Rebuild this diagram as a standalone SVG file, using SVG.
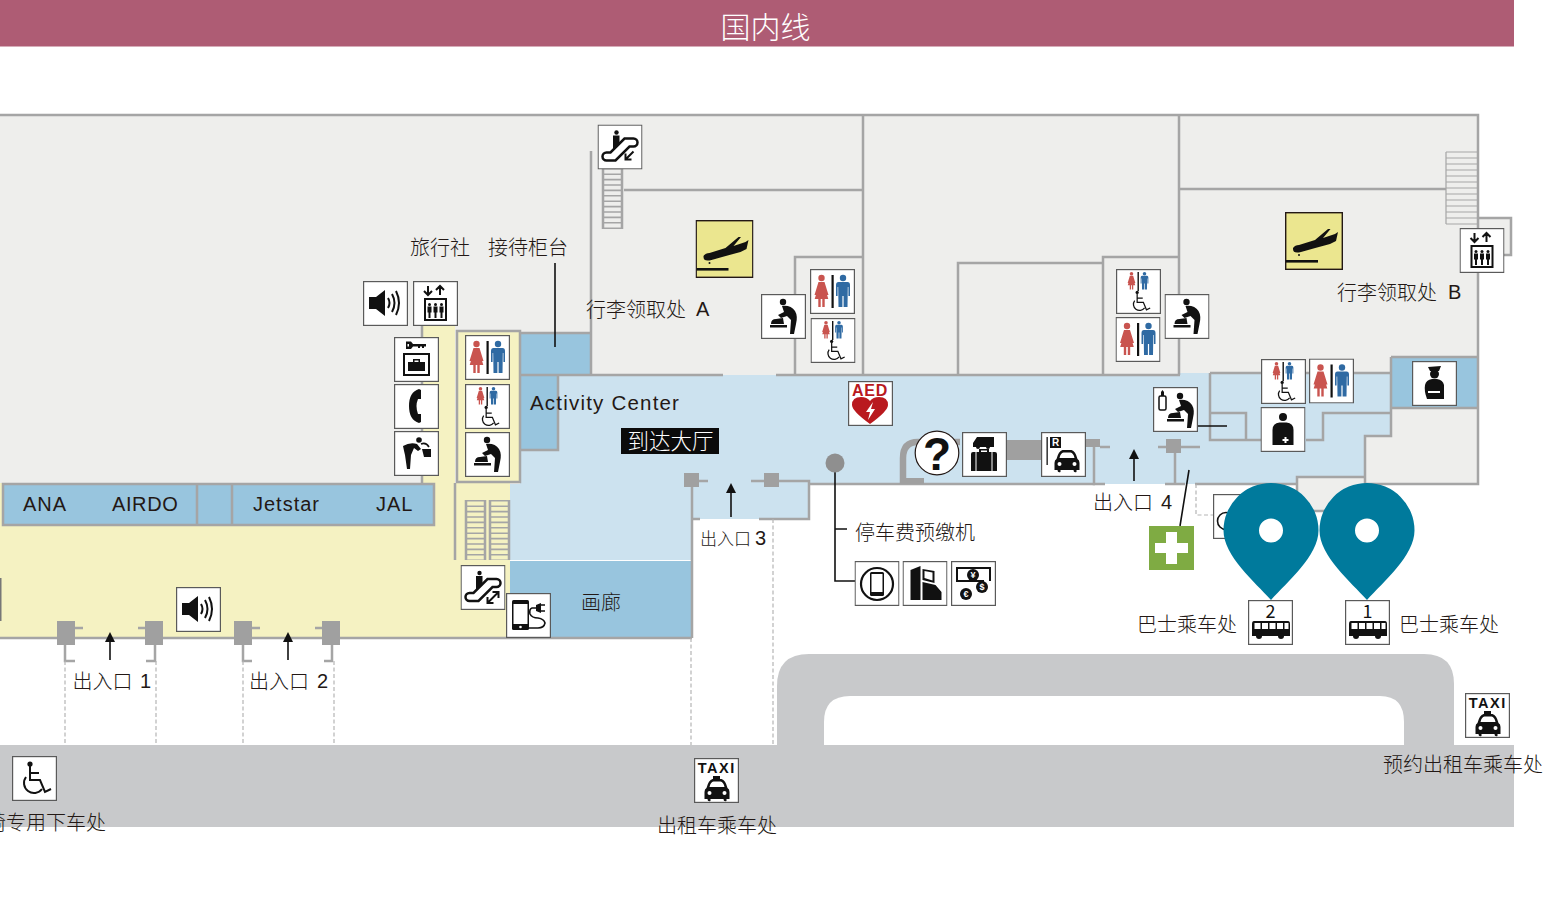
<svg xmlns="http://www.w3.org/2000/svg" width="1550" height="900" viewBox="0 0 1550 900">
<style>
text{font-family:"Noto Sans CJK SC","Noto Sans",sans-serif;font-size:20px;fill:#231815;font-weight:300}
.lat{font-family:"Liberation Sans","Noto Sans",sans-serif;letter-spacing:1px}
.w{fill:none;stroke:#a5a5a5;stroke-width:2.5}
.t{fill:none;stroke:#a5a5a5;stroke-width:1.2}
.d{fill:none;stroke:#b5b5b5;stroke-width:1.2;stroke-dasharray:4 2.5}
.g{fill:#a0a0a0}
.k{fill:none;stroke:#111;stroke-width:1.6}
.box{fill:#fff;stroke:#5a5a5a;stroke-width:1.2}
.i{fill:#111}
.is{fill:none;stroke:#111;stroke-width:2}
.b{fill:#98c5de}
.rung{fill:none;stroke:#a5a5a5;stroke-dasharray:1.6 3.8}
</style>
<defs>
<marker id="ah" markerWidth="12" markerHeight="12" refX="8" refY="5" orient="auto" markerUnits="userSpaceOnUse"><path d="M0 0L10 5L0 10Z" fill="#111"/></marker>
<g id="man"><circle cy="3" r="3.200"/><path d="M-7 10Q-7 7-4.500 7H4.500Q7 7 7 10V21H5.400V12H4.800L4.500 32H.6V21H-.6V32H-4.500L-4.800 12H-5.400V21H-7Z"/></g>
<g id="woman"><circle cy="3" r="3.200"/><path d="M-3 7H3L7 20H5.500L3.500 13L6.800 24H3.200V32H.8V24H-.8V32H-3.200V24H-6.800L-3.500 13L-5.500 20H-7Z"/></g>
<g id="chair"><circle cx="18" cy="8" r="2.600" class="i"/><path d="M18 10V24H28L33 36L39 33M18 17H27" class="is"/><path d="M14 21A10 10 0 1 0 30 33" class="is"/></g>
<g id="babyfig"><circle cx="22" cy="8" r="3.200"/><path d="M21 12Q30 11 34 17Q37 22 35 30L33 40H29L30 26L26 22L20 24L17 21L23 18Z"/><path d="M9 31H26V33.500H9ZM10 30Q10 25 15 25L22 24L23 30Z"/></g>
<path id="plane" d="M8 36Q10 33 14 33L30 28L43 17H45.500L38 26L50 22L53 20L51 29L45 32Q30 36 16 40Q8 42 8 37Z"/>
<g id="carshape"><path d="M3 10Q5 2 9 1H18Q22 2 24 10Q26 11 26 14V21H23V23Q20 24 20 21H7V23Q4 24 4 21H1V14Q1 11 3 10ZM6 9H21Q20 4 17 3.500H10Q7 4 6 9Z" fill-rule="evenodd"/><circle cx="6" cy="15" r="2" fill="#fff"/><circle cx="21" cy="15" r="2" fill="#fff"/></g>
<symbol id="speaker" viewBox="0 0 45 45" width="45" height="45"><rect class="box" x=".6" y=".6" width="43.800" height="43.800"/><path class="i" d="M6 16H13L22 9V35L13 28H6Z"/><path class="is" d="M25 17Q28 22 25 27M29 13Q34 22 29 31M33 10Q39 22 33 34"/></symbol>
<symbol id="lift" viewBox="0 0 45 45" width="45" height="45"><rect class="box" x=".6" y=".6" width="43.800" height="43.800"/><path class="is" d="M15 5V14M11 10L15 14L19 10M27 14V5M23 9L27 5L31 9"/><rect class="is" x="12" y="18" width="21" height="21"/><g class="i"><circle cx="16.500" cy="23.500" r="1.500"/><path d="M14.500 25.500H18.500V31.500H17.500V37H15.500V31.500H14.500Z"/><circle cx="22.500" cy="23.500" r="1.500"/><path d="M20.500 25.500H24.500V31.500H23.500V37H21.500V31.500H20.500Z"/><circle cx="28.500" cy="23.500" r="1.500"/><path d="M26.500 25.500H30.500V31.500H29.500V37H27.500V31.500H26.500Z"/></g></symbol>
<symbol id="keybag" viewBox="0 0 45 45" width="45" height="45"><rect class="box" x=".6" y=".6" width="43.800" height="43.800"/><path class="i" d="M12 4.500H17L19 7H32V9.500H30V11H28V9.500H26V11H24V9.500H19L17 12H12Z"/><rect x="13.500" y="7" width="1.500" height="2.500" fill="#fff"/><rect class="is" x="10" y="17" width="25" height="21"/><path class="i" d="M14 25H19V22H26V25H31V34H14ZM20.500 23.500V25H24.500V23.500Z" fill-rule="evenodd"/></symbol>
<symbol id="phone" viewBox="0 0 45 45" width="45" height="45"><rect class="box" x=".6" y=".6" width="43.800" height="43.800"/><path class="i" d="M25 5Q15 8 15 22Q15 36 25 39L27 38V30H24Q21 22 24 15H27V6Z"/></symbol>
<symbol id="water" viewBox="0 0 45 45" width="45" height="45"><rect class="box" x=".6" y=".6" width="43.800" height="43.800"/><g class="i"><circle cx="25" cy="9" r="2.800"/><path d="M9 15Q16 11 23 13L27 18L24 20L20 17L17 24L16 38H13L11 24Q10 20 9 15Z"/><path d="M28 18H37V26H30Z"/></g><path class="k" d="M27 13Q32 11 35 16" stroke-width="1"/></symbol>
<symbol id="wc" viewBox="0 0 45 45" width="45" height="45"><rect class="box" x=".6" y=".6" width="43.800" height="43.800"/><use href="#woman" x="11.500" y="6" fill="#c9544f"/><rect x="21.500" y="6" width="2.200" height="33" fill="#111"/><use href="#man" x="33" y="6" fill="#2f6aa3"/></symbol>
<symbol id="wca" viewBox="0 0 45 45" width="45" height="45"><rect class="box" x=".6" y=".6" width="43.800" height="43.800"/><use href="#woman" transform="translate(15.500 3) scale(.55)" fill="#c9544f"/><rect x="21.500" y="3" width="1.400" height="19" fill="#111"/><use href="#man" transform="translate(28.500 3) scale(.55)" fill="#2f6aa3"/><use href="#chair" transform="translate(10 18.500) scale(.62)"/></symbol>
<symbol id="baby" viewBox="0 0 45 45" width="45" height="45"><rect class="box" x=".6" y=".6" width="43.800" height="43.800"/><use href="#babyfig" fill="#111"/></symbol>
<symbol id="babybottle" viewBox="0 0 45 45" width="45" height="45"><rect class="box" x=".6" y=".6" width="43.800" height="43.800"/><use href="#babyfig" fill="#111" transform="translate(5 1)"/><rect x="6" y="9" width="7" height="14" rx="1.500" fill="#fff" stroke="#111" stroke-width="1.500"/><path class="i" d="M8 9V5L9.500 3L11 5V9Z"/></symbol>
<symbol id="esc" viewBox="0 0 45 45" width="45" height="45"><rect class="box" x=".6" y=".6" width="43.800" height="43.800"/><path d="M9 28H13L27 14H36A4 4 0 0 1 36 22H32L18 36H9A4 4 0 0 1 9 28Z" fill="none" stroke="#111" stroke-width="2.500"/><circle cx="19" cy="8" r="2.200" class="i"/><path class="i" d="M15.500 11H22V20L17 24H15.500Z"/><path class="is" d="M27 38L38 27M32 27H38V33M27 32V38H33"/></symbol>
<symbol id="escdown" viewBox="0 0 45 45" width="45" height="45"><rect class="box" x=".6" y=".6" width="43.800" height="43.800"/><path d="M9 28H13L27 14H36A4 4 0 0 1 36 22H32L18 36H9A4 4 0 0 1 9 28Z" fill="none" stroke="#111" stroke-width="2.500"/><circle cx="19" cy="8" r="2.200" class="i"/><path class="i" d="M15.500 11H22V20L17 24H15.500Z"/><path class="is" d="M36 27L28 35M28 29V35H34"/></symbol>
<symbol id="charge" viewBox="0 0 45 45" width="45" height="45"><rect class="box" x=".6" y=".6" width="43.800" height="43.800"/><rect class="i" x="6" y="7" width="17" height="30" rx="1.500"/><rect x="7.500" y="11" width="14" height="20" fill="#fff"/><circle cx="14.500" cy="34" r="1.300" fill="#fff"/><path class="i" d="M30 12L35 10V20L30 18Z"/><path d="M35 12H39M35 18H39" class="k"/><path class="k" d="M30 15H26Q23 16 24 21Q26 25 32 25Q38 26 39 30Q38 35 32 35H23"/></symbol>
<symbol id="wheel" viewBox="0 0 45 45" width="45" height="45"><rect class="box" x=".6" y=".6" width="43.800" height="43.800"/><use href="#chair"/></symbol>
<symbol id="taxi" viewBox="0 0 45 45" width="45" height="45"><rect class="box" x=".6" y=".6" width="43.800" height="43.800"/><text x="22.800" y="15" text-anchor="middle" style="font-family:'Liberation Sans',sans-serif;font-weight:700;font-size:14.500px;letter-spacing:1.500px;fill:#111">TAXI</text><rect class="i" x="19" y="18" width="7" height="3"/><use href="#carshape" class="i" transform="translate(9.500 20)"/></symbol>
<symbol id="aed" viewBox="0 0 45 45" width="45" height="45"><rect class="box" x=".6" y=".6" width="43.800" height="43.800"/><text x="22" y="14.500" text-anchor="middle" style="font-family:'Liberation Sans',sans-serif;font-weight:700;font-size:16px;letter-spacing:.8px;fill:#b9191e">AED</text><path d="M22 43Q4 30 4 24Q4 16 13 16Q19 16 22 20Q25 16 31 16Q40 16 40 24Q40 30 22 43Z" fill="#b9191e"/><path d="M25 21L18 31H22L20 39L27 28H23Z" fill="#fff"/></symbol>
<symbol id="lug" viewBox="0 0 45 45" width="45" height="45"><rect class="box" x=".6" y=".6" width="43.800" height="43.800"/><path class="i" d="M11 15V11L15 5H32V15H28A2 2 0 0 1 24 15H18A2 2 0 0 1 14 15Z"/><path class="i" d="M9 22Q9 20 11 20H17V17H27V20H33Q35 20 35 22V39H9ZM19 18.500V20H25V18.500Z" fill-rule="evenodd"/><path d="M14 20V39M30 20V39" stroke="#fff"/></symbol>
<symbol id="rent" viewBox="0 0 45 45" width="45" height="45"><rect class="box" x=".6" y=".6" width="43.800" height="43.800"/><rect class="i" x="5.500" y="5" width="1.300" height="28"/><rect class="i" x="9" y="5" width="11" height="11"/><text x="14.500" y="14" text-anchor="middle" style="font-family:'Liberation Sans',sans-serif;font-weight:700;font-size:10px;fill:#fff">R</text><use href="#carshape" class="i" transform="translate(12.500 17)"/></symbol>
<symbol id="phonecoin" viewBox="0 0 45 45" width="45" height="45"><rect class="box" x=".6" y=".6" width="43.800" height="43.800"/><circle cx="22.500" cy="23" r="16" fill="none" stroke="#111" stroke-width="2.200"/><rect class="i" x="15.500" y="11" width="14" height="24" rx="1.500"/><rect x="17" y="13" width="11" height="18" fill="#fff"/></symbol>
<symbol id="machine" viewBox="0 0 45 45" width="45" height="45"><rect class="box" x=".6" y=".6" width="43.800" height="43.800" stroke="#222"/><path class="i" d="M8 9L18 5V39H8ZM20 8L32 10V22L20 19ZM20 21L33 24L39 31V39H20Z"/><path d="M22 10L30 11.500V19.500L22 17Z" fill="#fff"/></symbol>
<symbol id="money" viewBox="0 0 45 45" width="45" height="45"><rect class="box" x=".6" y=".6" width="43.800" height="43.800"/><path class="is" d="M33 20H6V7H39V20"/><circle class="i" cx="22" cy="14" r="6"/><circle class="i" cx="31" cy="26" r="6"/><circle class="i" cx="15" cy="33" r="6"/><g text-anchor="middle"><text x="22" y="17" style="font-family:'Liberation Sans',sans-serif;fill:#fff;font-size:9px;font-weight:700">¥</text><text x="31" y="29" style="font-family:'Liberation Sans',sans-serif;fill:#fff;font-size:9px;font-weight:700">$</text><text x="15" y="36" style="font-family:'Liberation Sans',sans-serif;fill:#fff;font-size:9px;font-weight:700">€</text></g></symbol>
<symbol id="aid" viewBox="0 0 45 45" width="45" height="45"><rect class="box" x=".6" y=".6" width="43.800" height="43.800"/><circle class="i" cx="22.500" cy="10" r="4"/><path class="i" d="M12 38V23Q12 16 19 15.500H26Q33 16 33 23V38Z"/><path fill="#fff" d="M24 30H26V32H28V34H26V36H24V34H22V32H24Z"/></symbol>
<symbol id="police" viewBox="0 0 45 45" width="45" height="45"><rect class="box" x=".6" y=".6" width="43.800" height="43.800"/><path class="i" d="M16 6L29 5L27 10H18Z"/><circle class="i" cx="22.500" cy="13" r="4.500"/><path class="i" d="M13 24Q14 19 20 18H25Q31 19 32 24V38H15Q12 30 13 24Z"/><path d="M16 30H28V32H16Z" fill="#fff"/></symbol>
<symbol id="clock" viewBox="0 0 45 45" width="45" height="45"><rect class="box" x=".6" y=".6" width="43.800" height="43.800"/><circle cx="13" cy="27" r="8.500" fill="none" stroke="#111" stroke-width="1.600"/></symbol>
<symbol id="bus" viewBox="0 0 45 45" width="45" height="45"><rect class="box" x=".6" y=".6" width="43.800" height="43.800"/><path class="i" d="M6 21H40Q42 21 42 24V36H4V24Q4 21 6 21Z"/><circle class="i" cx="11" cy="36" r="3"/><circle class="i" cx="33" cy="36" r="3"/><g fill="#fff"><rect x="6.500" y="23" width="6" height="6"/><rect x="14" y="23" width="6" height="6"/><rect x="21.500" y="23" width="6" height="6"/><rect x="29" y="23" width="6" height="6"/><rect x="36.500" y="23" width="4" height="6"/></g></symbol>
<symbol id="arrive" viewBox="0 0 58 58" width="58" height="58"><rect x=".7" y=".7" width="56.600" height="56.600" fill="#ebe68f" stroke="#231815" stroke-width="1.400"/><use href="#plane" class="i"/><rect class="i" x="1" y="48" width="32" height="2.600"/><circle class="i" cx="14" cy="43" r="1"/></symbol>
</defs>

<g id="header"><rect width="1514" height="46.500" fill="#ae5c74"/><text x="765.500" y="38" text-anchor="middle" style="font-size:30px;fill:#fff">国内线</text></g>

<g id="road" fill="#c8c9cb"><rect x="0" y="745" width="1514" height="82"/><path d="M777 745V686Q777 654 809 654H1424Q1454 654 1454 684V745Z"/><path d="M824 745V722Q824 696 850 696H1380Q1404 696 1404 722V745Z" fill="#fff"/></g>

<g id="floor">
<rect x="0" y="115" width="1478" height="369" fill="#eeeeec"/>
<rect x="1478" y="218" width="33" height="37" fill="#eeeeec"/>
<rect x="1297" y="477" width="68" height="34" fill="#eeeeec"/>
<rect x="0" y="483" width="510" height="155" fill="#f5f2c2"/>
<rect x="423" y="325" width="32" height="158" fill="#f5f2c2"/>
<rect x="456" y="330" width="64" height="153" fill="#f5f2c2"/>
<path fill="#cce2ef" d="M520 375H1180V373H1391V436H1365V477H1297V484H809V519H692V560H510V484H520Z"/>
<rect class="b" x="510" y="561" width="181" height="77"/>
<rect class="b" x="521" y="333" width="70" height="42"/>
<rect class="b" x="521" y="376" width="37" height="74"/>
<rect class="b" x="1391" y="357" width="87" height="51"/>
<rect class="b" x="3" y="483" width="431" height="42"/>
</g>

<g id="walls">
<path class="w" d="M0 115H1478V484H1365V436H1391V413H1323V440H1306M1391 408H1478M1391 357H1478M1391 357V413M1297 484V477H1365M1297 484V511H1365"/>
<path class="w" d="M591 151V375M624 190H863M863 115V375M1179 115V375M1180 189H1446M795 375V257H863M958 375V263H1103M1103 375V257H1179"/>
<path class="w" d="M520 375H723M776 375H1180M1210 373H1391M1210 373V440H1262M1210 413H1246V440"/>
<path class="w" d="M457 331H520V482H457ZM422 325V483M455 483V560M521 333H591M558 376V450H521"/>
<path class="w" d="M3 525V484H434V525ZM197 484V525M232 484V525M0 638H57M75 638H145M163 638H234M252 638H322M340 638H510M692 487V638M510 638H692"/>
<path class="w" d="M692 519H700M759 519H809V481H779M809 484H1095M1195 484H1297M1478 218H1511V255H1504"/>
<path class="t" d="M1446 152V224M1446 152H1478M1446 158H1478M1446 164H1478M1446 170H1478M1446 176H1478M1446 182H1478M1446 188H1478M1446 194H1478M1446 200H1478M1446 206H1478M1446 212H1478M1446 218H1478M1446 224H1478"/>
<path class="w" d="M603 168V229M622 168V229M466 500V560M485 500V560M490 500V560M509 500V560"/>
<path class="rung" stroke-width="18" d="M612.500 168V229M475.500 500V560M499.500 500V560"/>
<path d="M903 484V458Q903 442 918 442H960" fill="none" stroke="#a0a0a0" stroke-width="6.500"/>
<rect class="g" x="900" y="478" width="24" height="6"/>
<rect class="g" x="1005" y="440" width="37" height="20"/>
<rect class="g" x="1085" y="439" width="15" height="8"/>
<path class="w" d="M1100 447H1110M1094 447V484H1105M1158 447H1200M1175 453V484M1165 484H1185"/>
<rect class="g" x="1166" y="439" width="15" height="14"/>
<g class="g"><rect x="57" y="621" width="18" height="24"/><rect x="145" y="621" width="18" height="24"/><rect x="234" y="621" width="18" height="24"/><rect x="322" y="621" width="18" height="24"/><rect x="684" y="473" width="15" height="14"/><rect x="764" y="473" width="15" height="14"/></g>
<path class="w" d="M75 628H83M138 628H145M65 645V661H75M155 645V661H146M252 628H260M315 628H322M243 645V661H252M332 645V661H324M699 481H708M751 481H764"/>
<path class="d" d="M65 661V745M156 661V745M243 661V745M334 661V745M691 638V745M773 519V745M1196 484V515H1213"/>
<rect x="0" y="578" width="1.500" height="43" fill="#777"/>
</g>

<g id="connectors">
<path class="k" d="M555 263V347M1198 426H1227M1189 470L1180 526M835 463V581H855M835 529H847"/>
<path class="k" marker-end="url(#ah)" d="M110 660V634"/>
<path class="k" marker-end="url(#ah)" d="M288 660V634"/>
<path class="k" marker-end="url(#ah)" d="M731 517V485"/>
<path class="k" marker-end="url(#ah)" d="M1134 481V451"/>
<circle cx="835" cy="463" r="9.500" fill="#8f8f8f"/>
</g>

<g id="labels">
<text x="410" y="255">旅行社</text><text x="488" y="255">接待柜台</text>
<text x="586" y="317">行李领取处</text><text x="696" y="316" class="lat">A</text>
<text x="1337" y="300">行李领取处</text><text x="1448" y="299" class="lat">B</text>
<text x="530" y="410" class="lat" style="font-size:20.500px;letter-spacing:1.200px">Activity Center</text>
<text x="23" y="511" class="lat">ANA</text><text x="112" y="511" class="lat" style="letter-spacing:.6px">AIRDO</text><text x="253" y="511" class="lat">Jetstar</text><text x="376" y="511" class="lat">JAL</text>
<text x="72.500" y="689">出入口</text><text x="140" y="688" class="lat">1</text>
<text x="249" y="689">出入口</text><text x="317" y="688" class="lat">2</text>
<text x="700" y="545" style="font-size:17px">出入口</text><text x="755" y="545" class="lat">3</text>
<text x="1093" y="510">出入口</text><text x="1161" y="509" class="lat">4</text>
<text x="581" y="610">画廊</text>
<text x="855" y="540">停车费预缴机</text>
<text x="1137" y="632">巴士乘车处</text><text x="1399" y="632">巴士乘车处</text>
<text x="1383" y="772">预约出租车乘车处</text>
<text x="657" y="833">出租车乘车处</text>
<text x="106" y="830" text-anchor="end">轮椅专用下车处</text>
</g>

<g id="hall-label"><rect x="621" y="428" width="98" height="26" fill="#0b0b0b"/><text x="670.500" y="449" text-anchor="middle" style="fill:#fff;font-size:21.500px">到达大厅</text></g>

<g id="n-esc-top"><use href="#escdown" x="597.500" y="124.500"/></g>
<g id="n-arrive-a"><use href="#arrive" x="695.500" y="220"/></g>
<g id="n-arrive-b"><use href="#arrive" x="1285" y="212"/></g>
<g id="n-speaker-1"><use href="#speaker" x="363" y="281"/></g>
<g id="n-lift-1"><use href="#lift" x="413" y="281"/></g>
<g id="n-keybag"><use href="#keybag" x="394" y="337"/></g>
<g id="n-phone"><use href="#phone" x="394" y="384"/></g>
<g id="n-water"><use href="#water" x="394" y="431"/></g>
<g id="n-wc-1"><use href="#wc" x="465" y="335"/></g>
<g id="n-wca-1"><use href="#wca" x="465" y="384"/></g>
<g id="n-baby-1"><use href="#baby" x="465" y="432"/></g>
<g id="n-esc"><use href="#esc" x="460.500" y="565"/></g>
<g id="n-charge"><use href="#charge" x="506" y="593"/></g>
<g id="n-speaker-2"><use href="#speaker" x="176" y="587"/></g>
<g id="n-wheel"><use href="#wheel" x="12" y="756"/></g>
<g id="n-taxi-1"><use href="#taxi" x="694" y="758"/></g>
<g id="n-taxi-2"><use href="#taxi" x="1465" y="693"/></g>
<g id="n-aed"><use href="#aed" x="848" y="381"/></g>
<g id="n-info"><circle cx="937" cy="453" r="21.800" fill="#fff" stroke="#231815" stroke-width="1.200"/><text x="937" y="470" text-anchor="middle" style="font-family:'Liberation Sans',sans-serif;font-weight:700;font-size:46px;fill:#111">?</text></g>
<g id="n-luggage"><use href="#lug" x="962" y="432"/></g>
<g id="n-rent"><use href="#rent" x="1041" y="432"/></g>
<g id="n-phonecoin"><use href="#phonecoin" x="854.500" y="561"/></g>
<g id="n-machine"><use href="#machine" x="902.500" y="561"/></g>
<g id="n-money"><use href="#money" x="951" y="561"/></g>
<g id="n-baby-2"><use href="#baby" x="761" y="294"/></g>
<g id="n-wc-2"><use href="#wc" x="810" y="269"/></g>
<g id="n-wca-2"><use href="#wca" x="810.500" y="318"/></g>
<g id="n-wca-3"><use href="#wca" x="1116" y="269"/></g>
<g id="n-wc-3"><use href="#wc" x="1115.500" y="317"/></g>
<g id="n-baby-3"><use href="#baby" x="1164.500" y="294"/></g>
<g id="n-baby-4"><use href="#babybottle" x="1153" y="387"/></g>
<g id="n-wca-4"><use href="#wca" x="1261" y="359"/></g>
<g id="n-wc-4"><use href="#wc" x="1309" y="358.500"/></g>
<g id="n-aid"><use href="#aid" x="1260.500" y="407"/></g>
<g id="n-police"><use href="#police" x="1412" y="361"/></g>
<g id="n-lift-2"><use href="#lift" x="1459.500" y="228"/></g>
<g id="n-clock"><use href="#clock" x="1213" y="494"/></g>
<g id="n-firstaid"><rect x="1149" y="526" width="45" height="44" fill="#7fab43"/><path fill="#fff" d="M1166 532H1177V543H1188V553H1177V564H1166V553H1155V543H1166Z"/></g>
<g id="n-bus-2"><use href="#bus" x="1248" y="600"/><text x="1270.500" y="618" text-anchor="middle" style="font-size:18px;fill:#111;font-weight:400">2</text></g>
<g id="n-bus-1"><use href="#bus" x="1345" y="600"/><text x="1367.500" y="618" text-anchor="middle" style="font-size:18px;fill:#111;font-weight:400">1</text></g>
<g id="n-pin-2"><path fill="#007a9c" fill-rule="evenodd" d="M1271 600C1255 582 1223.500 556 1223.500 530.500A47.500 47.500 0 0 1 1318.500 530.500C1318.500 556 1287 582 1271 600ZM1271 518.500A12 12 0 1 0 1271 542.500A12 12 0 1 0 1271 518.500Z"/></g>
<g id="n-pin-1"><path fill="#007a9c" fill-rule="evenodd" d="M1367 600C1351 582 1319.500 556 1319.500 530.500A47.500 47.500 0 0 1 1414.500 530.500C1414.500 556 1383 582 1367 600ZM1367 518.500A12 12 0 1 0 1367 542.500A12 12 0 1 0 1367 518.500Z"/></g>
</svg>
